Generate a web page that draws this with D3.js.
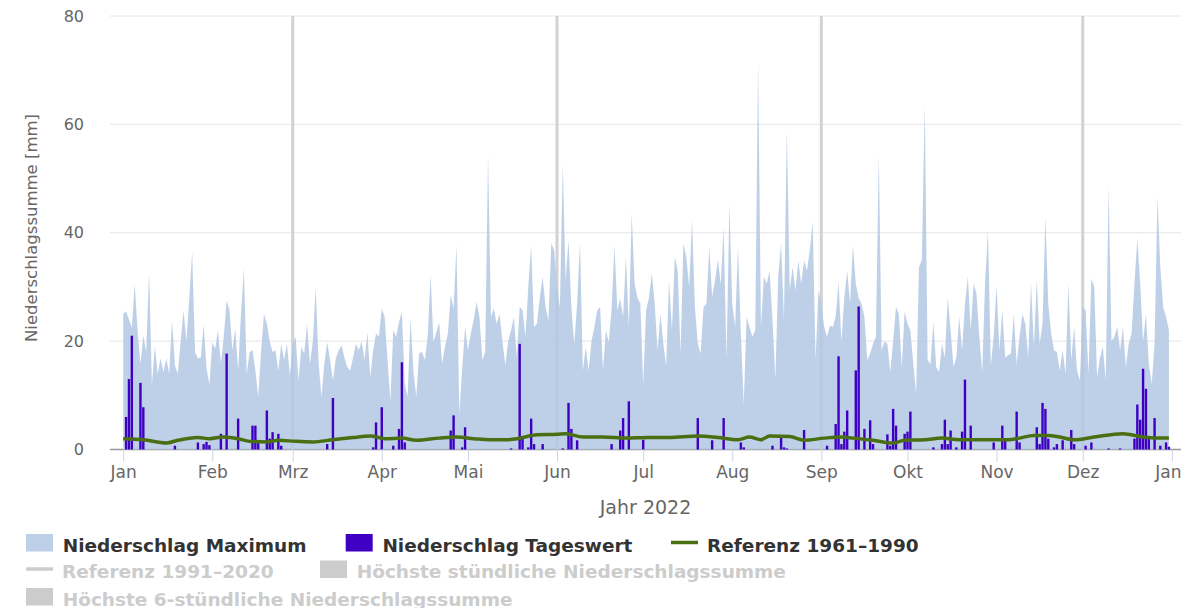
<!DOCTYPE html>
<html>
<head>
<meta charset="utf-8">
<script src="https://cdn.jsdelivr.net/npm/d3@7"></script>
<style>
  body { margin: 0; background: #fff; }
  svg { display: block; font-family: "DejaVu Sans", Verdana, sans-serif; }
</style>
</head>
<body>
<div id="chart"></div>
<script>
// month tick labels (Jan 2022 ... Jan 2023)
const monthLabels = ['Jan', 'Feb', 'Mrz', 'Apr', 'Mai', 'Jun', 'Jul', 'Aug', 'Sep', 'Okt', 'Nov', 'Dez', 'Jan'];
const yTicks = [0, 20, 40, 60, 80];

// Niederschlag Maximum, one value per day [mm]
const maxJan = [25, 25.5, 24, 22.5, 30.5, 22, 15.8, 21, 18, 32.8, 12, 19, 14, 16.8, 14.3, 16.8, 14, 23.8, 15.5, 14, 20, 25.7, 20, 28, 36.5, 18, 16.8, 17, 23, 15, 12];
const maxFeb = [19.8, 18.6, 22, 16, 20.8, 27.5, 25.7, 18.3, 22.3, 14.6, 25, 33.4, 14, 18, 18.3, 14.6, 9.7, 18.3, 25, 23.2, 20, 18, 18.3, 14.6, 19.5, 16.5, 19.5, 13.7];
const maxMar = [19.5, 20.8, 12.8, 18.9, 17.7, 23.2, 15.8, 20, 30, 16.1, 9.7, 15.8, 19.8, 16.5, 12.8, 16.8, 18.3, 19.2, 17, 15.2, 14.6, 17, 19.5, 18.3, 20, 16.5, 21.7, 13.4, 18.3, 21.4, 20.8];
const maxApr = [26, 24.5, 16.5, 9, 22, 20.8, 23.5, 25.4, 12.1, 9.7, 24.2, 14.6, 9.7, 17.7, 18, 16.5, 21, 32.2, 19.8, 21.7, 23.5, 15.8, 19, 21.4, 28.5, 26, 37.7, 6.6, 15, 22.6];
const maxMai = [18.3, 21.4, 24, 27.2, 24.5, 16.5, 18, 54.3, 24.5, 26, 23.2, 25, 20, 15.5, 20, 22, 24.5, 17, 26.3, 25.7, 20.8, 30, 37.7, 22.6, 23.2, 28, 31.9, 26.3, 23.8, 38, 36.8];
const maxJun = [30, 26.3, 52.5, 31.2, 38.6, 26.3, 19.5, 26.9, 38.3, 14.6, 18.9, 14.6, 20, 22.6, 25.7, 26.3, 14.6, 22, 19.8, 26, 37.7, 25.7, 27.8, 24.5, 35.6, 22.6, 43.6, 30.6, 28, 26.9];
const maxJul = [12.1, 25.7, 28, 32.5, 27, 18.3, 25, 19.5, 15.5, 31.2, 22, 35.6, 33, 17.7, 38, 35.6, 30, 42.3, 26.3, 19.5, 17.7, 26.3, 26.9, 37.4, 28.2, 31.2, 35, 30.6, 41.1, 16.5, 45.4];
const maxAug = [26.9, 22.6, 37.4, 21.4, 8.4, 24.5, 22.6, 20.8, 22, 71.6, 22.6, 31.9, 30.6, 33, 24, 13, 31.9, 38, 23.8, 59, 29.4, 33.7, 29.4, 34.9, 30.6, 34.9, 33, 36.8, 42, 16.5, 29.4];
const maxSep = [26.9, 22.6, 20.8, 22.9, 22.6, 24.5, 30.9, 20, 28, 33, 26.9, 37.7, 30.6, 28, 26.9, 24.5, 16.5, 17.7, 19.5, 20.8, 54.3, 18.3, 20, 19.5, 14.3, 20, 26.3, 25, 15.2, 25.4];
const maxOkt = [23.2, 22, 16, 10.3, 33.7, 35, 63.6, 16.5, 15.8, 23.5, 15.2, 14.3, 19.5, 17, 28, 22, 15.2, 17, 24.5, 18.3, 26.9, 31.9, 22, 30.6, 28.8, 20.8, 14.3, 30.6, 40.5, 15.5, 20.8];
const maxNov = [30.3, 18.3, 25.7, 17, 17.4, 17.7, 25, 15.8, 20.8, 25, 23.2, 17, 30.6, 18.9, 31.2, 19.5, 23.2, 43, 26.9, 21.4, 18.3, 18, 14.6, 18.3, 14, 30.6, 16.5, 22.6, 14.6, 12.8];
const maxDez = [26.3, 25.7, 14, 31.5, 30, 13.4, 17, 18.9, 12.8, 48.5, 20, 20.8, 22.6, 18.3, 22.6, 15.2, 19.5, 21.4, 30.6, 38.9, 30.6, 20, 25, 15.8, 12.1, 19.5, 46.6, 33.7, 26.3, 24.5, 22];

// Niederschlag Tageswert: day of year (0 = 1 Jan) and amount [mm]
const rainDay = [1, 2, 3, 6, 7, 18, 26, 28, 29, 30, 34, 36, 40, 45, 46, 47, 50, 51, 52, 54, 55, 71, 73, 87, 88, 90,
  94, 96, 97, 98, 114, 115, 118, 119, 135, 138, 139, 141, 142, 143, 146, 153, 155, 156, 158, 170, 173, 174, 176, 181,
  200, 205, 209, 215, 216, 226, 229, 230, 231, 237, 245, 248, 249, 250, 251, 252, 255, 256, 258, 260, 261, 266, 267,
  268, 269, 272, 273, 274, 282, 285, 286, 287, 288, 290, 292, 293, 295, 303, 306, 307, 311, 312, 318, 319, 320, 321,
  322, 324, 325, 327, 330, 331, 335, 337, 343, 347, 352, 353, 354, 355, 356, 357, 359, 361, 363, 364];
const rainMm = [6, 13, 21, 12.3, 7.8, 0.7, 1.3, 1, 1.4, 0.8, 2.9, 17.7, 5.7, 4.4, 4.4, 1.5, 7.2, 2, 3.2, 2.9, 0.7, 1, 9.5, 0.4, 5, 7.8,
  0.7, 3.8, 16.1, 1.3, 3.5, 6.3, 0.4, 4.1, 0.2, 19.5, 2.3, 0.4, 5.7, 1, 1, 0.2, 8.6, 3.8, 1.7, 1, 3.5, 5.8, 8.9, 1.8,
  5.8, 1.7, 5.8, 1.3, 0.4, 0.7, 2.3, 0.4, 0.2, 3.6, 0.7, 4.7, 17.2, 1, 3.3, 7.2, 14.6, 26.4, 3.8, 5.4, 1, 2.8, 0.7,
  7.5, 4.4, 2.9, 3.3, 7, 0.4, 1, 5.5, 1, 3.5, 0.4, 3.3, 12.9, 4.4, 1.3, 4.4, 2, 7, 1.3, 4.1, 1, 8.6, 7.5,
  2, 0.4, 1, 1.7, 3.6, 1, 0.7, 1.3, 0.2, 0.2, 2, 8.3, 5.5, 14.9, 11.2, 2, 5.8, 0.7, 1.3, 0.5];

// Referenz 1961-1990
const refDay = [0, 7, 15, 19, 26, 30, 35, 40, 44, 50, 54, 60, 66, 73, 80, 86, 91, 97, 102, 110, 116, 122, 128, 134,
  137, 144, 151, 154, 160, 167, 175, 183, 190, 200, 207, 214, 218, 222, 225, 232, 237, 244, 250, 254, 261, 268, 272, 279,
  285, 291, 301, 308, 312, 317, 322, 326, 331, 338, 348, 355, 359, 364];
const refMm = [2.0, 1.8, 1.2, 1.7, 2.2, 2.0, 2.3, 2.0, 1.5, 1.4, 1.7, 1.5, 1.4, 1.8, 2.2, 2.5, 2.0, 2.1, 1.7, 2.1, 2.3, 2.0, 1.8, 1.8,
  2.0, 2.7, 2.8, 2.9, 2.3, 2.3, 2.1, 2.2, 2.2, 2.5, 2.2, 1.8, 2.3, 1.8, 2.5, 2.4, 1.7, 2.1, 2.3, 2.1, 1.7, 1.2, 1.7, 1.8,
  2.1, 1.8, 1.8, 1.8, 2.1, 2.6, 2.6, 2.3, 1.8, 2.3, 2.9, 2.3, 2.1, 2.1];

// quarter plot lines
const plotLineDates = [Date.UTC(2022, 2, 1), Date.UTC(2022, 5, 1), Date.UTC(2022, 8, 1), Date.UTC(2022, 11, 1)];

const legendItems = [
  { name: 'Niederschlag Maximum', color: '#bed0e7', symbol: 'rect', active: true, x: 26, row: 0 },
  { name: 'Niederschlag Tageswert', color: '#3f00c3', symbol: 'rect', active: true, x: 345.7, row: 0 },
  { name: 'Referenz 1961–1990', color: '#4a6f12', symbol: 'line', active: true, x: 671, row: 0 },
  { name: 'Referenz 1991–2020', color: '#cccccc', symbol: 'line', active: false, x: 26, row: 1 },
  { name: 'Höchste stündliche Niederschlagssumme', color: '#cccccc', symbol: 'rect', active: false, x: 320, row: 1 },
  { name: 'Höchste 6-stündliche Niederschlagssumme', color: '#cccccc', symbol: 'rect', active: false, x: 26, row: 2 }
];

const maxDaily = [].concat(maxJan, maxFeb, maxMar, maxApr, maxMai, maxJun, maxJul, maxAug, maxSep, maxOkt, maxNov, maxDez);

const width = 1196, height = 608;
const plotLeft = 110, plotRight = 1181, plotTop = 16, plotBottom = 449.5;
const dayMs = 864e5;
const start = Date.UTC(2022, 0, 1);
const toDate = d => new Date(start + d * dayMs);

const x = d3.scaleUtc()
  .domain([toDate(-4.6), toDate(368.2)])
  .range([plotLeft, plotRight]);

const y = d3.scaleLinear()
  .domain([0, 80])
  .range([plotBottom, plotTop]);

const svg = d3.select('#chart').append('svg')
  .attr('width', width)
  .attr('height', height);

svg.append('rect').attr('width', width).attr('height', height).attr('fill', '#fff');

// grid
svg.append('g')
  .selectAll('line')
  .data(yTicks)
  .join('line')
    .attr('x1', plotLeft)
    .attr('x2', plotRight)
    .attr('y1', d => y(d))
    .attr('y2', d => y(d))
    .attr('stroke', '#e6e6e6')
    .attr('stroke-width', 1);

// x axis line
svg.append('line')
  .attr('x1', plotLeft).attr('x2', plotRight)
  .attr('y1', plotBottom).attr('y2', plotBottom)
  .attr('stroke', '#999')
  .attr('stroke-width', 1.5);

// quarter plot lines
svg.append('g')
  .selectAll('line')
  .data(plotLineDates)
  .join('line')
    .attr('x1', d => x(d))
    .attr('x2', d => x(d))
    .attr('y1', plotTop)
    .attr('y2', plotBottom)
    .attr('stroke', '#d2d2d2')
    .attr('stroke-width', 3);

// max area
const area = d3.area()
  .x((_, i) => x(toDate(i)))
  .y0(y(0))
  .y1(d => y(d));

svg.append('path')
  .datum(maxDaily)
  .attr('d', area)
  .attr('fill', '#b3c8e3')
  .attr('fill-opacity', 0.85);

// daily bars
const barWidth = 2.4;
svg.append('g')
  .selectAll('rect')
  .data(rainDay.map((d, i) => [d, rainMm[i]]))
  .join('rect')
    .attr('x', d => x(toDate(d[0])) - barWidth / 2)
    .attr('y', d => y(d[1]))
    .attr('width', barWidth)
    .attr('height', d => y(0) - y(d[1]))
    .attr('fill', '#3f00c3');

// reference line
const refLine = d3.line()
  .x(d => x(toDate(d[0])))
  .y(d => y(d[1]))
  .curve(d3.curveMonotoneX);

svg.append('path')
  .datum(refDay.map((d, i) => [d, refMm[i]]))
  .attr('d', refLine)
  .attr('fill', 'none')
  .attr('stroke', '#4a6f12')
  .attr('stroke-width', 3.5)
  .attr('stroke-linejoin', 'round');

// x axis
const xAxis = svg.append('g')
  .attr('transform', `translate(0,${plotBottom})`)
  .call(d3.axisBottom(x)
    .tickValues(d3.utcMonth.range(start, Date.UTC(2023, 0, 2)))
    .tickFormat((d, i) => monthLabels[i])
    .tickSize(12)
    .tickSizeOuter(0));
xAxis.select('.domain').remove();
xAxis.selectAll('.tick line').attr('stroke', '#ccd6eb');
xAxis.selectAll('.tick text')
  .attr('y', 28.5)
  .attr('dy', 0)
  .attr('fill', '#666')
  .style('font-size', '17px')
  .style('font-family', '"DejaVu Sans", Verdana, sans-serif');
// last label is kept inside the plot, as in the original
xAxis.selectAll('.tick text')
  .filter((d, i, nodes) => i === nodes.length - 1)
  .attr('text-anchor', 'end')
  .attr('x', plotRight - x(Date.UTC(2023, 0, 1)));

// y axis labels
const yAxis = svg.append('g')
  .attr('transform', `translate(${plotLeft},0)`)
  .call(d3.axisLeft(y).tickValues(yTicks).tickSize(0).tickPadding(26));
yAxis.select('.domain').remove();
yAxis.selectAll('.tick text')
  .attr('fill', '#666')
  .style('font-size', '16px')
  .style('font-family', '"DejaVu Sans", Verdana, sans-serif');

// axis titles
svg.append('text')
  .attr('transform', 'translate(37,228) rotate(-90)')
  .attr('text-anchor', 'middle')
  .attr('fill', '#666')
  .style('font-size', '16.5px')
  .text('Niederschlagssumme [mm]');

svg.append('text')
  .attr('x', (plotLeft + plotRight) / 2)
  .attr('y', 514)
  .attr('text-anchor', 'middle')
  .attr('fill', '#666')
  .style('font-size', '19px')
  .text('Jahr 2022');

// legend
const rowBase = [551.5, 578, 605.5];
const legend = svg.append('g')
  .selectAll('g')
  .data(legendItems)
  .join('g')
    .attr('transform', d => `translate(${d.x},${rowBase[d.row]})`);

legend.filter(d => d.symbol === 'rect')
  .append('rect')
    .attr('x', 0).attr('y', -17.5)
    .attr('width', 27).attr('height', 17.5)
    .attr('fill', d => d.color);

legend.filter(d => d.symbol === 'line')
  .append('line')
    .attr('x1', 0).attr('x2', 27)
    .attr('y1', -9).attr('y2', -9)
    .attr('stroke', d => d.color)
    .attr('stroke-width', 3.5);

legend.append('text')
  .attr('x', d => d.symbol === 'line' ? 36 : 36.7)
  .attr('y', 0)
  .attr('fill', d => d.active ? '#333' : '#ccc')
  .style('font-size', '18.5px')
  .style('font-weight', 'bold')
  .text(d => d.name);
</script>
</body>
</html>
